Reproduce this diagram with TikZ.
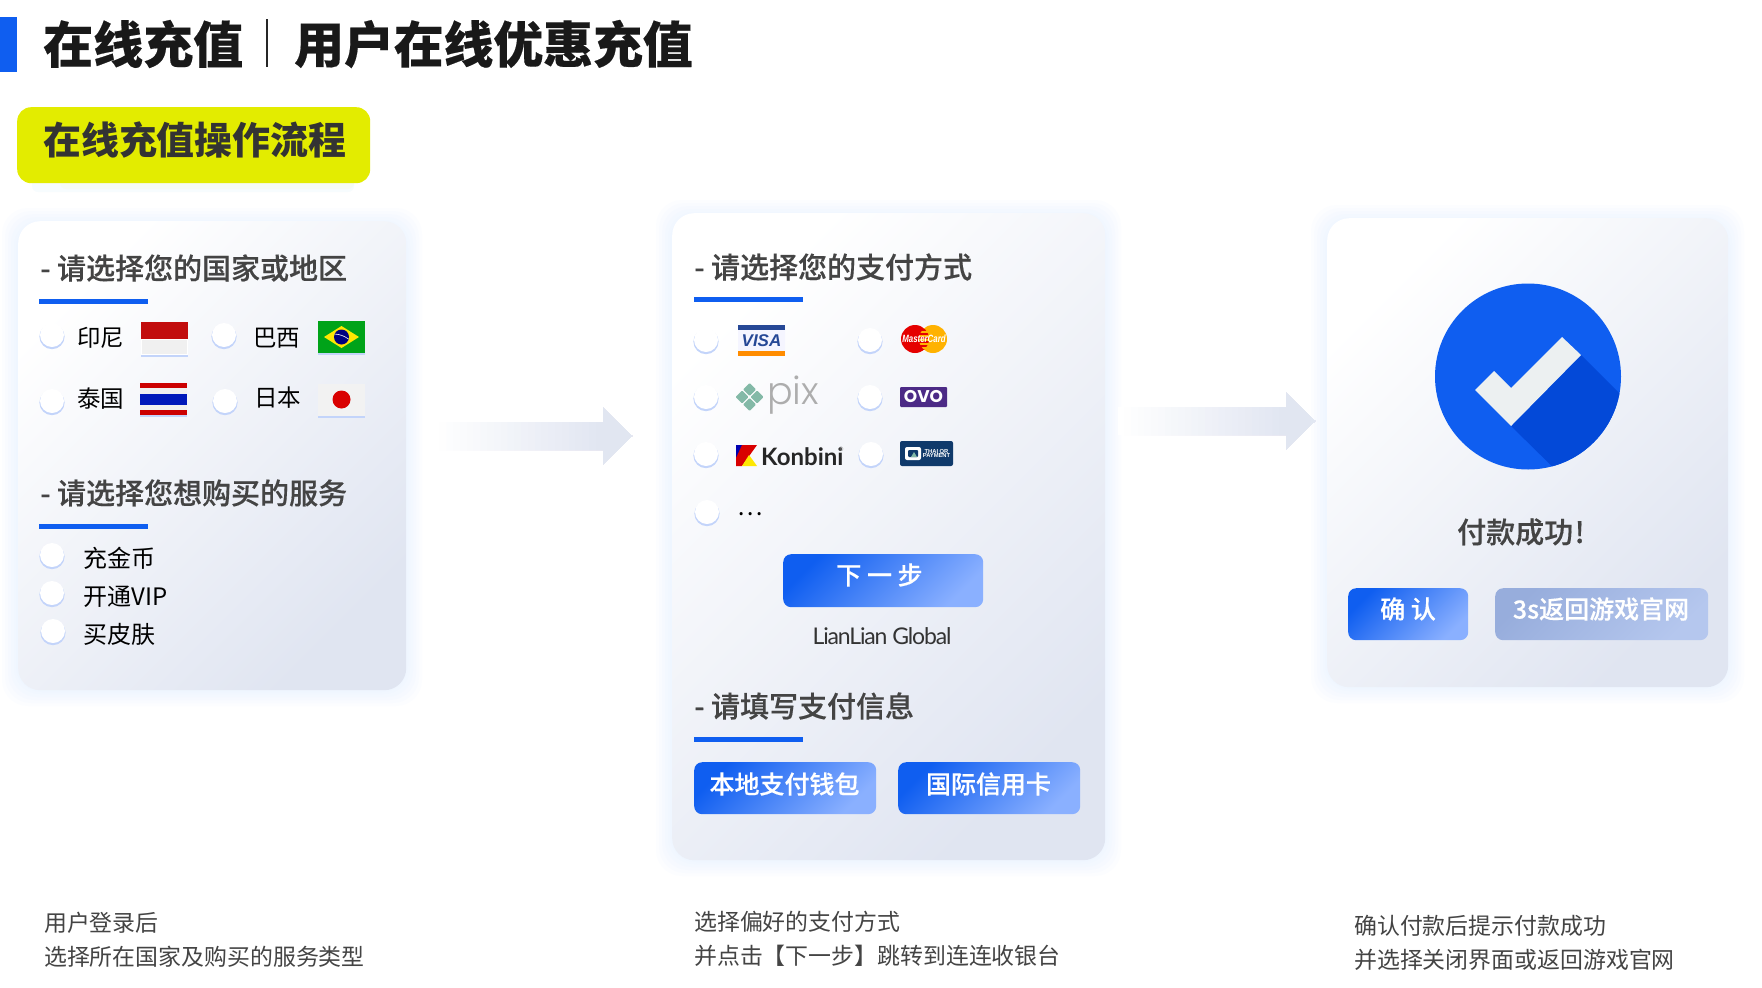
\documentclass[tikz,border=0pt]{standalone}
\usepackage{fontspec}
\usetikzlibrary{positioning,shadows}
\setmainfont{Noto Sans CJK SC}
\newfontfamily\latinfont{Liberation Sans}
\newfontfamily\narrowfont[FakeStretch=0.75]{Liberation Sans}
\newfontfamily\logofont{Lato}
\newfontfamily\geofont{Poppins}
\newfontfamily\thinfont{Poppins Light}
\newfontfamily\midfont[FakeBold=0.35]{Noto Sans CJK SC Medium}
\newfontfamily\heavyfont{Noto Sans CJK SC}[BoldFeatures={FakeBold=0.35}]
\definecolor{barBlue}{RGB}{15,94,240}
\definecolor{btnEnd}{RGB}{138,176,255}
\definecolor{backStart}{RGB}{151,173,220}
\definecolor{backEnd}{RGB}{181,199,238}
\definecolor{panelEnd}{RGB}{224,229,241}
\definecolor{glowBlue}{RGB}{226,240,255}
\definecolor{radioGlow}{RGB}{195,212,250}
\definecolor{headGray}{RGB}{68,68,68}
\definecolor{titleYellow}{RGB}{227,236,0}
\definecolor{badgeShade}{RGB}{3,73,216}
\definecolor{checkWhite}{RGB}{236,240,241}
\definecolor{pixTeal}{RGB}{131,185,167}
\definecolor{ovoPurple}{RGB}{76,42,134}
\definecolor{qrNavy}{RGB}{16,58,107}
\definecolor{visaBlue}{RGB}{38,72,150}
\newcommand{\fsz}[1]{\fontsize{#1pt}{#1pt}\selectfont}
\newcommand{\panelglow}[4]{\foreach \r in {16,13,10,7,4,2}{
  \fill[glowBlue, opacity=.1, rounded corners=26pt] (#1-\r,#2-\r+3) rectangle (#3+\r,#4+\r);}}
% tail start, head base, head tip, middle height
\newcommand{\flowarrow}[4]{\foreach \xx in {0,4,...,96}{
  \fill[panelEnd!\xx!white] (#1+\xx/100*#2-\xx/100*#1,#4-14) -- (#2,#4-14) -- (#2,#4-28.5) -- (#3,#4)
    -- (#2,#4+28.5) -- (#2,#4+14) -- (#1+\xx/100*#2-\xx/100*#1,#4+14) -- cycle;}}

\begin{document}
\begin{tikzpicture}[x=1pt, y=-1pt,
    every node/.style={inner sep=0pt},
    panel/.style={rectangle, rounded corners=22pt, anchor=north west,
                  left color=white, right color=panelEnd, shading angle=45},
    head/.style={anchor=west, font=\fsz{29}\midfont, text=headGray},
    lbl/.style={anchor=west, font=\fsz{23.5}, text=black},
    foot/.style={anchor=west, font=\fsz{22.9}, text=headGray},
    radio/.style={circle, fill=white, minimum size=24pt,
                  general shadow={fill=radioGlow, shadow yshift=-1.5pt, shadow scale=1.05}},
    flag/.style={rectangle, minimum width=47pt, minimum height=32pt,
                 general shadow={fill=radioGlow, shadow yshift=-2pt}},
    btn/.style={rectangle, rounded corners=8pt, anchor=north west, text=white,
                left color=barBlue, right color=btnEnd, shading angle=45},
    btntxt/.style={font=\fsz{25}\midfont, text=white}
  ]
  \useasboundingbox (0,0) rectangle (1762,988);
  \fill[white] (0,0) rectangle (1762,988);

  % Title row
  \fill[barBlue] (0,17) rectangle (17,72);
  \node[anchor=west, font=\fsz{50}\heavyfont\bfseries, text=black!90] (titleLeft) at (43,44) {在线充值};
  \coordinate (ruleTop) at (267,19);
  \coordinate (ruleBot) at (267,67);
  \draw[black!85, line width=1.4pt] (ruleTop)--(ruleBot);
  \node[anchor=west, font=\fsz{49.8}\heavyfont\bfseries, text=black!90] (titleRight) at (294,44) {用户在线优惠充值};

  \fill[cyan, opacity=.03, rounded corners=6pt] (32,175) rectangle (354,192);
  \fill[titleYellow, opacity=.04, rounded corners=6pt] (60,175) rectangle (354,189);
  \node[rectangle, rounded corners=14pt, fill=titleYellow, minimum width=353pt, minimum height=76pt,
        anchor=north west] (flowTag) at (17,107) {};
  \node[anchor=west, font=\fsz{37.9}\bfseries, text=black!80] (flowText) at (43,139.5) {在线充值操作流程};

  % Left panel
  \panelglow{18}{221}{406}{690}
  \node[panel, minimum width=388pt, minimum height=469pt] (panelCountry) at (18,221) {};
  \node[head] (headCountry) at (40,268) {- 请选择您的国家或地区};
  \fill[barBlue] (39,299) rectangle (148,304);

  \node[radio] (radioId) at (52,335) {};
  \node[lbl] (lblId) at (77,338) {印尼};
  \node[flag, fill=white] (flagId) at (164.5,338.5) {};
  \fill[red!75!black!95!white] (141,322) rectangle (188,339);
  \fill[black!6] (142,340) rectangle (187,354);

  \node[radio] (radioBr) at (224,335) {};
  \node[lbl] (lblBr) at (253,338) {巴西};
  \node[flag, fill=green!60!black!90!cyan] (flagBr) at (341.5,337) {};
  \fill[yellow!90!orange] (324,337) -- (341.5,326) -- (359,337) -- (341.5,348) -- cycle;
  \fill[blue!50!black] (341.5,337) circle (7.5);
  \draw[white, line width=0.6pt] (334.5,334) to[bend left=15] (348.5,339);

  \node[radio] (radioTh) at (52,401) {};
  \node[lbl] (lblTh) at (77,399) {泰国};
  \node[flag, fill=black!6] (flagTh) at (163.5,399) {};
  \fill[red!80!black] (140,383) rectangle (187,388);
  \fill[blue!70!black!90!cyan] (140,394) rectangle (187,405);
  \fill[red!80!black] (140,410) rectangle (187,415);

  \node[radio] (radioJp) at (225,401) {};
  \node[lbl] (lblJp) at (254,398) {日本};
  \node[flag, fill=black!5] (flagJp) at (341.5,399.5) {};
  \fill[red!85!black] (341.5,399.5) circle (9);

  \node[head] (headService) at (40,493) {- 请选择您想购买的服务};
  \fill[barBlue] (39,524) rectangle (148,529);
  \node[radio] (radioCoin) at (52,555) {};
  \node[lbl, font=\fsz{24}] (lblCoin) at (83,558) {充金币};
  \node[radio] (radioVip) at (52,593) {};
  \node[lbl, font=\fsz{24}] (lblVip) at (83,597) {开通VIP};
  \node[radio] (radioSkin) at (53,631) {};
  \node[lbl, font=\fsz{24}] (lblSkin) at (83,634) {买皮肤};

  % First arrow
  \flowarrow{433}{603}{632}{436}

  % Middle panel
  \panelglow{672}{213}{1105}{860}
  \node[panel, minimum width=433pt, minimum height=647pt] (panelPay) at (672,213) {};
  \node[head] (headPay) at (694,267) {- 请选择您的支付方式};
  \fill[barBlue] (694,297) rectangle (803,302);

  \node[radio] (radioVisa) at (706,340) {};
  \fill[white!96!blue, rounded corners=2pt] (738,325) rectangle (785,356);
  \fill[visaBlue] (738,325) rectangle (785,330);
  \fill[orange!90!yellow] (738,351) rectangle (785,356);
  \node[font=\fsz{17}\latinfont\bfseries\itshape, text=visaBlue] (logoVisa) at (761.5,341) {VISA};

  \node[radio] (radioMaster) at (870,340) {};
  \fill[red!90!black] (915,339) circle (14);
  \fill[orange!60!yellow] (933,339) circle (14);
  \begin{scope}
    \clip (915,339) circle (14);
    \foreach \yy in {329,333,337,341,345,349}{\fill[red!90!black] (918,\yy) rectangle (931,\yy+2);}
  \end{scope}
  \node[font=\fsz{10.5}\narrowfont\bfseries\itshape, text=white] (logoMaster) at (924,339) {MasterCard};

  \node[radio] (radioPix) at (706,397) {};
  \fill[pixTeal, rounded corners=1pt] (749.5,383) -- (756,389.5) -- (749.5,396) -- (743,389.5) -- cycle;
  \fill[pixTeal, rounded corners=1pt] (749.5,398) -- (756,404.5) -- (749.5,411) -- (743,404.5) -- cycle;
  \fill[pixTeal, rounded corners=1pt] (742,390.5) -- (748.5,397) -- (742,403.5) -- (735.5,397) -- cycle;
  \fill[pixTeal, rounded corners=1pt] (757,390.5) -- (763.5,397) -- (757,403.5) -- (750.5,397) -- cycle;
  \node[anchor=west, font=\fsz{38}\thinfont, text=black!32] (logoPix) at (767,395) {pix};

  \node[radio] (radioOvo) at (870,397) {};
  \node[rectangle, fill=ovoPurple, minimum width=47pt, minimum height=20pt, rounded corners=1pt,
        font=\fsz{17}\geofont\bfseries, text=white] (logoOvo) at (923.5,397) {OVO};

  \node[radio] (radioKon) at (706,454) {};
  \fill[blue!70!black] (736,445) -- (751,445) -- (736,466) -- cycle;
  \fill[red!85!black] (742,445) -- (757,445) -- (742,466) -- (736,466) -- (736,458) -- cycle;
  \fill[yellow!90!orange] (749,455) -- (757,466) -- (742,466) -- cycle;
  \node[anchor=west, font=\fsz{24}\logofont\bfseries, text=black!85] (logoKon) at (761,457) {Konbini};
  \node[font=\fsz{6}\logofont, text=black!50] (markKon) at (841,449) {®};

  \node[radio] (radioQr) at (871,454) {};
  \node[rectangle, fill=qrNavy, minimum width=53pt, minimum height=25pt, rounded corners=2pt] (logoQr) at (926.5,453.5) {};
  \fill[white, rounded corners=2pt] (905,447) rectangle (921,460);
  \fill[qrNavy, rounded corners=1pt] (908,450) rectangle (918,457);
  \fill[pixTeal] (911,457) -- (914,452) -- (917,457) -- cycle;
  \node[font=\fsz{5.8}\latinfont\bfseries, text=white, align=center] (txtQr) at (936.5,453.5) {THAI QR\\[-1pt]PAYMENT};

  \node[radio] (radioMore) at (707,512) {};
  \node[anchor=west, font=\fsz{24}, text=black] (lblMore) at (737,514) {…};

  \node[btn, minimum width=200pt, minimum height=53pt] (btnNext) at (783,554) {};
  \node[btntxt] (txtNext) at (879.5,575) {下 一 步};
  \node[font=\fsz{23}\logofont\addfontfeature{LetterSpace=-5}, text=black!80] (logoLian) at (882,636) {LianLian Global};

  \node[head] (headInfo) at (694,706) {- 请填写支付信息};
  \fill[barBlue] (694,737) rectangle (803,742);
  \node[btn, minimum width=182pt, minimum height=52pt] (btnWallet) at (694,762) {};
  \node[btntxt] (txtWallet) at (784.5,784) {本地支付钱包};
  \node[btn, minimum width=182pt, minimum height=52pt] (btnCard) at (898,762) {};
  \node[btntxt] (txtCard) at (988.5,784) {国际信用卡};

  % Second arrow
  \flowarrow{1118}{1286}{1315}{421}

  % Right panel
  \panelglow{1327}{218}{1728}{687}
  \node[panel, minimum width=401pt, minimum height=469pt] (panelDone) at (1327,218) {};
  \node[circle, fill=barBlue, minimum size=186pt] (badge) at (1528,376.5) {};
  \begin{scope}
    \clip (1528,376.5) circle (93);
    \fill[badgeShade] (1581,355) -- (1640,414) -- (1570,484) -- (1511,426) -- cycle;
  \end{scope}
  \fill[checkWhite] (1475,390) -- (1494,371) -- (1511,388) -- (1562,337) -- (1581,355) -- (1511,426) -- cycle;
  \node[anchor=west, font=\fsz{29}\midfont, text=headGray] (txtDone) at (1457,532) {付款成功\hspace{1.5pt}!};

  \node[btn, minimum width=120pt, minimum height=52pt] (btnOk) at (1348,588) {};
  \node[btntxt] (txtOk) at (1408,609) {确 认};
  \node[rectangle, rounded corners=8pt, anchor=north west, left color=backStart, right color=backEnd,
        shading angle=45, minimum width=213pt, minimum height=52pt] (btnBack) at (1495,588) {};
  \node[btntxt] (txtBack) at (1601,609) {3s返回游戏官网};

  % Captions
  \node[foot] (capOneA) at (44,923) {用户登录后};
  \node[foot] (capOneB) at (44,957) {选择所在国家及购买的服务类型};
  \node[foot] (capTwoA) at (694,922) {选择偏好的支付方式};
  \node[foot] (capTwoB) at (694,956) {并点击【下一步】跳转到连连收银台};
  \node[foot] (capThreeA) at (1354,926) {确认付款后提示付款成功};
  \node[foot] (capThreeB) at (1354,960) {并选择关闭界面或返回游戏官网};
\end{tikzpicture}
\end{document}
